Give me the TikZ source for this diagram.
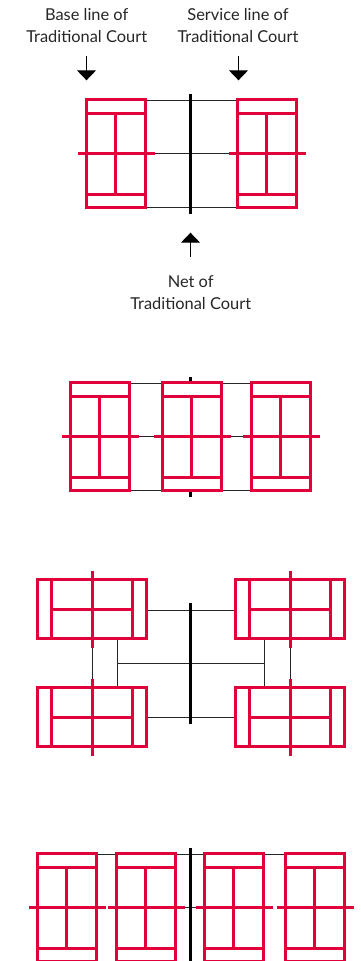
\documentclass[tikz,border=0pt]{standalone}
\usepackage{fontspec}
\setmainfont{Lato}
\usetikzlibrary{arrows.meta}
\definecolor{courtred}{HTML}{E2003A}
\tikzset{
  courtline/.style={draw=courtred, line width=3pt},
  netline/.style={draw=black, line width=3pt},
  thinline/.style={draw=black!85, line width=1pt},
  pointer/.style={draw=black, line width=1pt, -{Triangle[length=10pt,width=19pt]}},
  caption/.style={align=center, text=black!85, font=\fontsize{16.4}{22}\selectfont}
}
\begin{document}
\begin{tikzpicture}[x=1pt,y=-1pt]
\useasboundingbox (0,0) rectangle (360,961);
% captions and pointers
\node[caption] (baseLabel) at (86.7,26) {Base line of\\Traditional Court};
\node[caption] (serviceLabel) at (238,26) {Service line of\\Traditional Court};
\node[caption] (netLabel) at (190.7,293) {Net of\\Traditional Court};
\coordinate (baseFrom) at (86.5,55.7);
\coordinate (baseTo) at (86.5,80.3);
\coordinate (serviceFrom) at (238.5,55.7);
\coordinate (serviceTo) at (238.5,80.3);
\coordinate (netFrom) at (190.5,257.3);
\coordinate (netTo) at (190.5,232.7);
\draw[pointer] (baseFrom) -- (baseTo);
\draw[pointer] (serviceFrom) -- (serviceTo);
\draw[pointer] (netFrom) -- (netTo);
% traditional court lines, black
\foreach \xa/\xb/\y in {
145/237/100.5,
145/237/153.5,
145/237/207.5,
130/251/383.5,
130/251/436.5,
130/251/490.5,
146/235/610.5,
146/235/717.5,
117/265/663.5,
97/285/854.5,
184/196/907.5}
{
  \draw[thinline] (\xa,\y) -- (\xb,\y);
}
\foreach \x/\ya/\yb in {
117.5/639/687,
264.5/639/687,
92.5/647/680,
290.5/647/680}
{
  \draw[thinline] (\x,\ya) -- (\x,\yb);
}
\foreach \x/\ya/\yb in {
190.5/94/214,
190.5/377/383,
190.5/490/497,
190.5/603/724,
190.5/848/961}
{
  \draw[netline] (\x,\ya) -- (\x,\yb);
}
% upright courts
\foreach \x/\y in {
86.5/99.5,
237.5/99.5,
70.5/382.5,
162.5/382.5,
251.5/382.5,
37.5/853.5,
116.5/853.5,
204.5/853.5,
285.5/853.5}
{
  \draw[courtline] (\x,\y) rectangle +(59,108);
  \draw[courtline] (\x,\y+14) -- +(59,0);
  \draw[courtline] (\x,\y+95) -- +(59,0);
  \draw[courtline] (\x+29,\y+14) -- +(0,81);
  \draw[courtline] (\x-9,\y+54) -- +(77,0);
}
% courts lying on their side
\foreach \x/\y in {
37.5/579.5,
235.5/579.5,
37.5/687.5,
235.5/687.5}
{
  \draw[courtline] (\x,\y) rectangle +(109,59);
  \draw[courtline] (\x+14,\y) -- +(0,59);
  \draw[courtline] (\x+95,\y) -- +(0,59);
  \draw[courtline] (\x+14,\y+30) -- +(81,0);
  \draw[courtline] (\x+55,\y-9) -- +(0,77);
}
\end{tikzpicture}
\end{document}
